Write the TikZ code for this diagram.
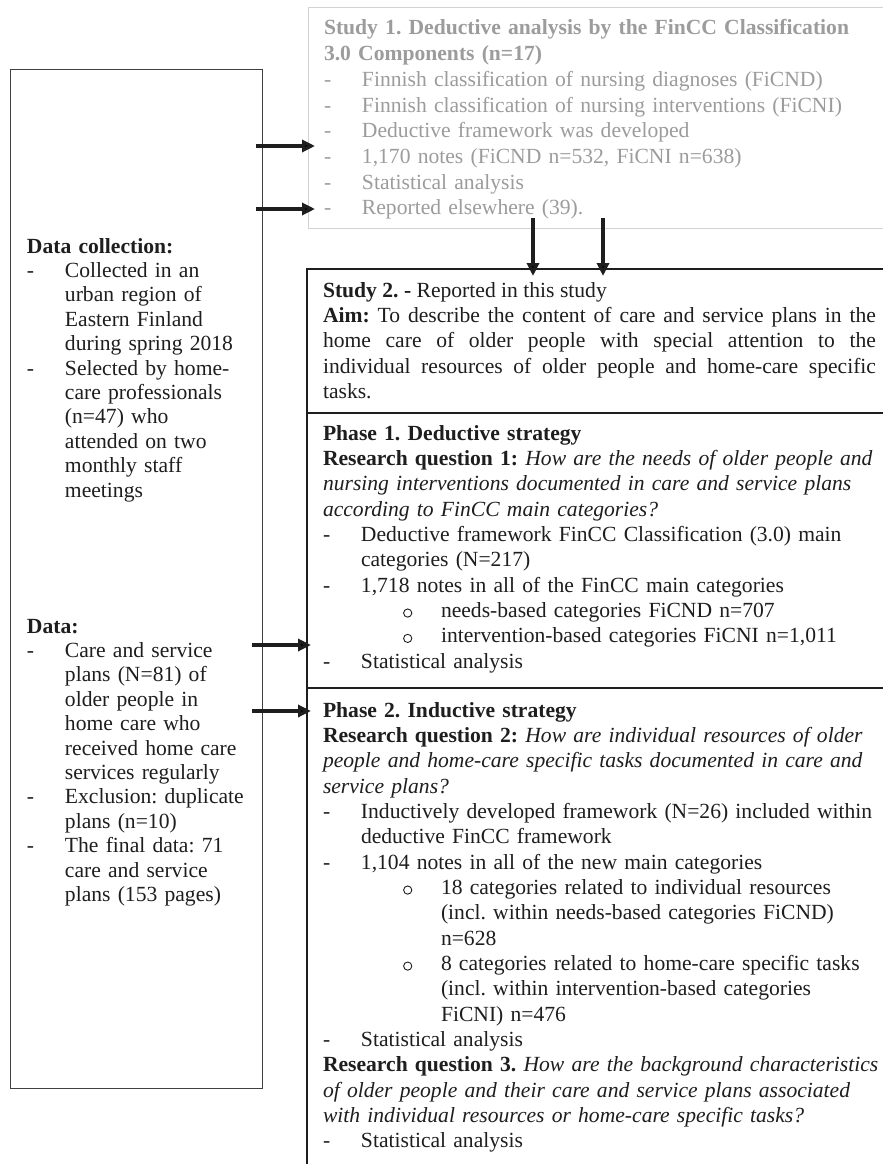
\documentclass[tikz,border=0pt]{standalone}
\usepackage{fontspec}
\setmainfont{Liberation Serif}
\usetikzlibrary{arrows.meta}
\frenchspacing
\definecolor{studyone}{HTML}{9C9C9C}
\definecolor{studyoneline}{HTML}{D2D2D2}
\definecolor{ink}{HTML}{1E1E1E}
\newcommand\ringmark{\tikz[baseline=0pt]{\path (0pt,0pt) rectangle (9.4pt,0pt);\draw[line width=0.9pt,ink] (4.7pt,4.4pt) circle[radius=4.1pt];}}
\newcommand\dashitm[1]{\par\noindent\hangindent=38pt\hangafter=1\makebox[38pt][l]{-}#1}
\newcommand\subitm[1]{\par\noindent\hangindent=118pt\hangafter=1\hspace*{80pt}\makebox[38pt][l]{\ringmark}#1}
\begin{document}
\begin{tikzpicture}[x=1pt,y=-1pt,
  txt/.style={anchor=base west, inner sep=0pt, outer sep=0pt, text width=#1, align=left, text=ink},
  rtxt/.style={txt=#1, font={\fontsize{21.6}{25.35}\selectfont\frenchspacing}},
  ltxt/.style={txt=#1, font={\fontsize{21.6}{24.4}\selectfont\frenchspacing}},
  frame/.style={draw=ink, line width=1.8pt, anchor=north west, inner sep=0pt, minimum width=640pt},
  arr/.style={draw=ink, line width=3.2pt, -{Triangle[length=13pt,width=12pt]}}]
\useasboundingbox (0,0) rectangle (883,1164);
\fill[white] (0,0) rectangle (883,1164);

% boxes
\node[draw=black!75, line width=1.1pt, anchor=north west, inner sep=0pt,
      minimum width=252pt, minimum height=1019pt] (lb) at (10,69) {};
\node[draw=studyoneline, line width=1.4pt, anchor=north west, inner sep=0pt,
      minimum width=640pt, minimum height=221pt] (s1) at (308,7) {};
\node[frame, minimum height=144pt] (s2) at (306,268) {};
\node[frame, minimum height=275pt] (p1) at (306,412) {};
\node[frame, minimum height=520pt] (p2) at (306,687) {};

% Study 1 text
\node[txt=580pt, text=studyone, font={\fontsize{21.6}{25.7}\selectfont\frenchspacing}] (t1) at (324,35) {%
\noindent\textbf{Study 1. Deductive analysis by the FinCC Classification\newline 3.0 Components (n=17)}
\dashitm{Finnish classification of nursing diagnoses (FiCND)}
\dashitm{Finnish classification of nursing interventions (FiCNI)}
\dashitm{Deductive framework was developed}
\dashitm{1,170 notes (FiCND n=532, FiCNI n=638)}
\dashitm{Statistical analysis}
\dashitm{Reported elsewhere (39).}\par};

% Study 2 text
\node[rtxt=553pt, align=justify] (t2) at (323,297) {%
\noindent\textbf{Study 2. -} Reported in this study\par
\noindent\textbf{Aim:} To describe the content of care and service plans in the\linebreak
home care of older people with special attention to the\linebreak
individual resources of older people and home-care specific\linebreak
tasks.\par};

% Phase 1 text
\node[rtxt=580pt] (t3) at (323,440) {%
\noindent\textbf{Phase 1. Deductive strategy}\newline
\textbf{Research question 1:} \textit{How are the needs of older people and\newline
nursing interventions documented in care and service plans\newline
according to FinCC main categories?}
\dashitm{Deductive framework FinCC Classification (3.0) main\newline categories (N=217)}
\dashitm{1,718 notes in all of the FinCC main categories}
\subitm{needs-based categories FiCND n=707}
\subitm{intervention-based categories FiCNI n=1,011}
\dashitm{Statistical analysis}\par};

% Phase 2 text
\node[rtxt=580pt] (t4) at (323,717) {%
\noindent\textbf{Phase 2. Inductive strategy}\newline
\textbf{Research question 2:} \textit{How are individual resources of older\newline
people and home-care specific tasks documented in care and\newline
service plans?}
\dashitm{Inductively developed framework (N=26) included within\newline deductive FinCC framework}
\dashitm{1,104 notes in all of the new main categories}
\subitm{18 categories related to individual resources\newline (incl. within needs-based categories FiCND)\newline n=628}
\subitm{8 categories related to home-care specific tasks\newline (incl. within intervention-based categories\newline FiCNI) n=476}
\dashitm{Statistical analysis}
\par\noindent\textbf{Research question 3.} \textit{How are the background characteristics\newline
of older people and their care and service plans associated\newline
with individual resources or home-care specific tasks?}
\dashitm{Statistical analysis}\par};

% Left texts
\node[ltxt=280pt] (t5) at (27,253) {%
\noindent\textbf{Data collection:}
\dashitm{Collected in an\newline urban region of\newline Eastern Finland\newline during spring 2018}
\dashitm{Selected by home-\newline care professionals\newline (n=47) who\newline attended on two\newline monthly staff\newline meetings}\par};

\node[ltxt=280pt] (t6) at (27,633) {%
\noindent\textbf{Data:}
\dashitm{Care and service\newline plans (N=81) of\newline older people in\newline home care who\newline received home care\newline services regularly}
\dashitm{Exclusion: duplicate\newline plans (n=10)}
\dashitm{The final data: 71\newline care and service\newline plans (153 pages)}\par};

% arrows
\coordinate (a1) at (256,146);
\coordinate (a2) at (256,209);
\coordinate (a3) at (252,645);
\coordinate (a4) at (252,711);
\coordinate (d1) at (533,218);
\coordinate (d2) at (603,218);
\draw[arr, shorten >=-7pt] (a1) -- (a1 -| s1.west);
\draw[arr, shorten >=-7pt] (a2) -- (a2 -| s1.west);
\draw[arr, shorten >=-5pt] (a3) -- (a3 -| p1.west);
\draw[arr, shorten >=-5pt] (a4) -- (a4 -| p2.west);
\draw[arr, shorten >=-8pt] (d1) -- (d1 |- s2.north);
\draw[arr, shorten >=-8pt] (d2) -- (d2 |- s2.north);
\end{tikzpicture}
\end{document}
